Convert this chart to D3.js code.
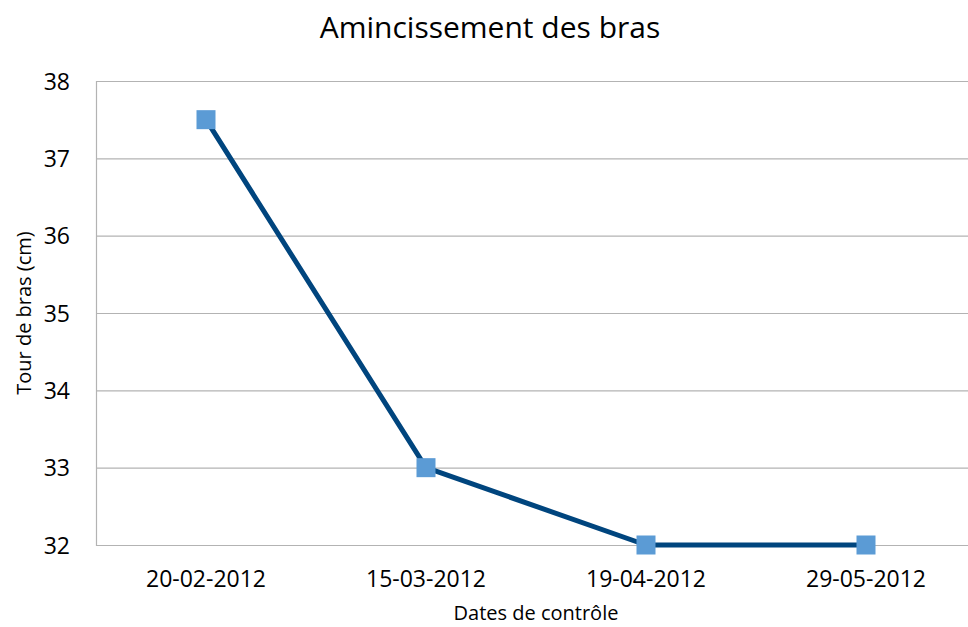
<!DOCTYPE html>
<html>
<head>
<meta charset="utf-8">
<script src="https://cdn.jsdelivr.net/npm/d3@7"></script>
<style>
  body { margin: 0; background: #fff; }
  svg text { font-family: "Open Sans", sans-serif; fill: #000; }
</style>
</head>
<body>
<svg id="chart" width="968" height="627"></svg>
<script>
// ----- data -----
var dates = ['20-02-2012', '15-03-2012', '19-04-2012', '29-05-2012'];
var tour = [37.5, 33, 32, 32];
var yTicks = [32, 33, 34, 35, 36, 37, 38];

var width = 968, height = 627;
var plot = {left: 96, right: 976, top: 81, bottom: 545};

var svg = d3.select('#chart');

var x = d3.scaleBand()
  .domain(dates)
  .range([plot.left, plot.right])
  .padding(0);

var y = d3.scaleLinear()
  .domain([32, 38])
  .range([plot.bottom, plot.top]);

// gridlines
svg.append('g')
  .selectAll('line')
  .data(yTicks)
  .enter()
  .append('line')
  .attr('x1', plot.left)
  .attr('x2', plot.right)
  .attr('y1', d => y(d) + 0.5)
  .attr('y2', d => y(d) + 0.5)
  .attr('stroke', '#b3b3b3')
  .attr('stroke-width', 1.2);

// left axis line
svg.append('line')
  .attr('x1', plot.left + 0.5).attr('x2', plot.left + 0.5)
  .attr('y1', plot.top).attr('y2', plot.bottom + 1)
  .attr('stroke', '#b3b3b3')
  .attr('stroke-width', 1.2);

// y axis labels
var yAxis = d3.axisLeft(y).tickValues(yTicks).tickFormat(d3.format('d')).tickSize(0).tickPadding(26);
var gy = svg.append('g')
  .attr('transform', 'translate(' + plot.left + ',0)')
  .call(yAxis);
gy.select('.domain').remove();
gy.selectAll('text')
  .style('font-family', '"Open Sans", sans-serif')
  .style('font-size', '23px')
  .attr('dy', '0.36em');

// x axis labels
var xAxis = d3.axisBottom(x).tickSize(0).tickPadding(26);
var gx = svg.append('g')
  .attr('transform', 'translate(0,' + plot.bottom + ')')
  .call(xAxis);
gx.select('.domain').remove();
gx.selectAll('text')
  .style('font-family', '"Open Sans", sans-serif')
  .style('font-size', '23px');

// line
var line = d3.line()
  .x((d, i) => x(dates[i]) + x.bandwidth() / 2)
  .y(d => y(d));

svg.append('path')
  .datum(tour)
  .attr('d', line)
  .attr('fill', 'none')
  .attr('stroke', '#00457e')
  .attr('stroke-width', 5)
  .attr('stroke-linejoin', 'round');

// markers
var ms = 19;
svg.append('g')
  .selectAll('rect')
  .data(tour)
  .enter()
  .append('rect')
  .attr('x', (d, i) => x(dates[i]) + x.bandwidth() / 2 - ms / 2)
  .attr('y', d => y(d) - ms / 2)
  .attr('width', ms)
  .attr('height', ms)
  .attr('fill', '#5b9bd5');

// title
svg.append('text')
  .attr('x', 490)
  .attr('y', 38)
  .attr('text-anchor', 'middle')
  .style('font-size', '30px')
  .text('Amincissement des bras');

// axis titles
svg.append('text')
  .attr('x', (plot.left + plot.right) / 2)
  .attr('y', 620)
  .attr('text-anchor', 'middle')
  .style('font-size', '20px')
  .text('Dates de contrôle');

svg.append('text')
  .attr('transform', 'translate(31,313) rotate(-90)')
  .attr('text-anchor', 'middle')
  .style('font-size', '20px')
  .text('Tour de bras (cm)');
</script>
</body>
</html>
